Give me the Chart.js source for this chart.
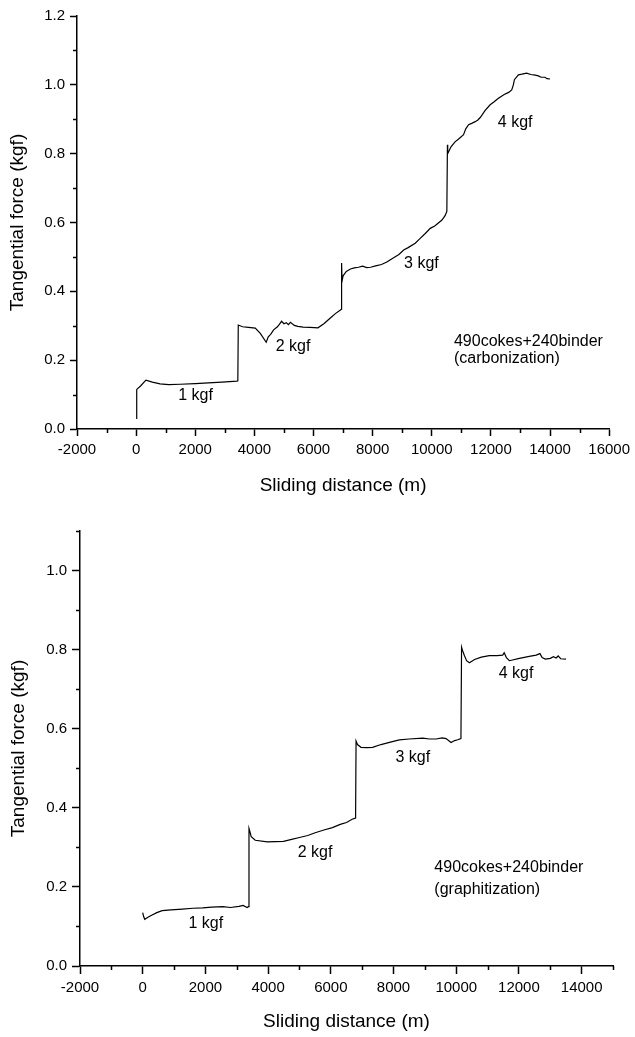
<!DOCTYPE html>
<html>
<head>
<meta charset="utf-8">
<script src="https://cdn.jsdelivr.net/npm/chart.js@4.4.1/dist/chart.umd.min.js"></script>
<style>
  body { margin: 0; background: #fff; }
  .box { position: absolute; left: 0; }
</style>
</head>
<body>
<div class="box" style="top:0"><canvas id="chartCarbon" width="635" height="500"></canvas></div>
<div class="box" style="top:505px"><canvas id="chartGraph" width="635" height="532"></canvas></div>
<script>
// carbonization run (top)
const carbonDist = [0, 20, 150, 330, 550, 810, 1100, 1490, 2000, 2450, 2900, 3410, 3440,
  3455, 3600, 3800, 4030, 4200, 4400, 4470, 4550, 4650, 4780, 4850, 4920, 5000, 5080, 5150, 5220,
  5350, 5470, 5650, 5880, 6150, 6350, 6560, 6750, 6900, 6940,
  6950, 6965, 7000, 7110, 7250, 7380, 7520, 7660, 7800, 7930, 8100, 8300, 8480, 8600, 8750, 8890,
  9050, 9200, 9440, 9600, 9780, 9950, 10100, 10345, 10450, 10510,
  10530, 10540, 10650, 10795, 10900, 11075, 11150, 11245, 11350, 11470, 11560, 11640, 11800, 11975,
  12100, 12255, 12450, 12600, 12705, 12760, 12795, 12930, 13050, 13210, 13350, 13500, 13605, 13700,
  13830, 13900, 14000];
const carbonForce = [0.031, 0.115, 0.125, 0.142, 0.136, 0.131, 0.129, 0.130, 0.132, 0.134, 0.136, 0.139, 0.140,
  0.302, 0.297, 0.295, 0.293, 0.278, 0.252, 0.268, 0.275, 0.288, 0.297, 0.305, 0.313, 0.306, 0.309, 0.303, 0.310,
  0.301, 0.298, 0.296, 0.295, 0.294, 0.306, 0.322, 0.336, 0.345, 0.348,
  0.482, 0.430, 0.445, 0.458, 0.465, 0.468, 0.470, 0.473, 0.469, 0.470, 0.474, 0.478, 0.485, 0.492, 0.500, 0.507,
  0.520, 0.527, 0.540, 0.553, 0.568, 0.583, 0.590, 0.607, 0.620, 0.632,
  0.826, 0.800, 0.820, 0.835, 0.842, 0.855, 0.872, 0.884, 0.888, 0.893, 0.898, 0.905, 0.925, 0.942,
  0.950, 0.961, 0.972, 0.978, 0.985, 1.000, 1.015, 1.029, 1.031, 1.034, 1.030, 1.028, 1.026, 1.022,
  1.022, 1.018, 1.017];

// graphitization run (bottom)
const graphDist = [0, 30, 65, 180, 300, 450, 620, 900, 1265, 1600, 1910, 2200, 2555, 2800, 3070, 3200, 3330, 3370,
  3390, 3420, 3460, 3590, 3975, 4490, 4750, 5000, 5265, 5500, 5780, 6050, 6300, 6500, 6680, 6790,
  6805, 6850, 6963, 7150, 7333, 7600, 7900, 8185, 8500, 8930, 9150, 9355, 9550, 9675, 9835, 9950, 10045, 10150,
  10170, 10200, 10260, 10330, 10420, 10585, 10800, 11055, 11300, 11480, 11530, 11600, 11695, 12015, 12330,
  12550, 12670, 12740, 12840, 13000, 13100, 13185, 13250, 13330, 13500];
const graphForce = [0.135, 0.125, 0.118, 0.124, 0.129, 0.135, 0.140, 0.142, 0.144, 0.146, 0.147, 0.149, 0.150, 0.148, 0.151, 0.153, 0.148, 0.150,
  0.348, 0.340, 0.327, 0.318, 0.314, 0.315, 0.320, 0.325, 0.330, 0.337, 0.344, 0.350, 0.358, 0.363, 0.371, 0.374,
  0.569, 0.560, 0.553, 0.552, 0.553, 0.560, 0.566, 0.572, 0.574, 0.576, 0.574, 0.574, 0.577, 0.575, 0.565, 0.570, 0.572, 0.575,
  0.806, 0.798, 0.785, 0.772, 0.767, 0.775, 0.781, 0.785, 0.785, 0.786, 0.792, 0.780, 0.772, 0.778, 0.783,
  0.786, 0.790, 0.780, 0.776, 0.778, 0.782, 0.779, 0.784, 0.777, 0.776];

// labelled ticks
const carbonXTicks = [-2000, 0, 2000, 4000, 6000, 8000, 10000, 12000, 14000, 16000];
const carbonYTicks = [0, 0.2, 0.4, 0.6, 0.8, 1.0, 1.2];
const graphXTicks = [-2000, 0, 2000, 4000, 6000, 8000, 10000, 12000, 14000];
const graphYTicks = [0, 0.2, 0.4, 0.6, 0.8, 1.0];

// minor tick values
const carbonXMinor = [-1000, 1000, 3000, 5000, 7000, 9000, 11000, 13000, 15000];
const carbonYMinor = [0.1, 0.3, 0.5, 0.7, 0.9, 1.1];
const graphXMinor = [-1000, 1000, 3000, 5000, 7000, 9000, 11000, 13000, 15000];
const graphYMinor = [0.1, 0.3, 0.5, 0.7, 0.9, 1.1];

// text notes in data units
const carbonNotes = [
  {text: '1 kgf', x: 2010, y: 0.097, align: 'center'},
  {text: '2 kgf', x: 5310, y: 0.238, align: 'center'},
  {text: '3 kgf', x: 9650, y: 0.482, align: 'center'},
  {text: '4 kgf', x: 12820, y: 0.889, align: 'center'},
  {text: '490cokes+240binder', x: 10750, y: 0.253, align: 'left'},
  {text: '(carbonization)', x: 10750, y: 0.206, align: 'left'}
];
const graphNotes = [
  {text: '1 kgf', x: 2013, y: 0.108, align: 'center'},
  {text: '2 kgf', x: 5496, y: 0.287, align: 'center'},
  {text: '3 kgf', x: 8613, y: 0.527, align: 'center'},
  {text: '4 kgf', x: 11907, y: 0.739, align: 'center'},
  {text: '490cokes+240binder', x: 9302, y: 0.248, align: 'left'},
  {text: '(graphitization)', x: 9302, y: 0.193, align: 'left'}
];

const FONT = "'Liberation Sans', Arial, Helvetica, sans-serif";

// short ticks between the labelled ones + text labels
const extrasPlugin = {
  id: 'extras',
  afterDraw(chart, args, opts) {
    const ctx = chart.ctx;
    const xs = chart.scales.x, ys = chart.scales.y;
    const area = chart.chartArea;
    ctx.save();
    ctx.strokeStyle = '#000';
    ctx.lineWidth = 1.5;
    ctx.beginPath();
    opts.xMinor.forEach(v => {
      const px = Math.round(xs.getPixelForValue(v)) + 0.5;
      ctx.moveTo(px, area.bottom);
      ctx.lineTo(px, area.bottom + 4);
    });
    opts.yMinor.forEach(v => {
      const py = Math.round(ys.getPixelForValue(v)) + 0.5;
      ctx.moveTo(area.left, py);
      ctx.lineTo(area.left - 4, py);
    });
    ctx.stroke();
    ctx.fillStyle = '#000';
    ctx.font = '16px ' + FONT;
    ctx.textBaseline = 'middle';
    opts.notes.forEach(n => {
      ctx.textAlign = n.align;
      ctx.fillText(n.text, xs.getPixelForValue(n.x), ys.getPixelForValue(n.y));
    });
    ctx.restore();
  }
};

function makeChart(id, dist, force, cfg) {
  const points = dist.map((d, i) => ({x: d, y: force[i]}));
  return new Chart(document.getElementById(id), {
    type: 'line',
    data: {
      datasets: [{
        data: points,
        borderColor: '#000',
        borderWidth: 1.2,
        pointRadius: 0,
        tension: 0,
        fill: false
      }]
    },
    options: {
      responsive: false,
      animation: false,
      layout: {padding: cfg.padding},
      plugins: {
        legend: {display: false},
        tooltip: {enabled: false},
        extras: {xMinor: cfg.xMinor, yMinor: cfg.yMinor, notes: cfg.notes}
      },
      scales: {
        x: {
          type: 'linear',
          min: cfg.xMin,
          max: cfg.xMax,
          afterBuildTicks: s => { s.ticks = cfg.xTicks.map(v => ({value: v})); },
          afterFit: s => { s.height = cfg.xHeight; },
          border: {color: '#000', width: 1.5},
          grid: {drawOnChartArea: false, tickLength: cfg.tickLen, tickColor: '#000', tickWidth: 1.5},
          ticks: {
            maxRotation: 0,
            autoSkip: false,
            padding: cfg.xPad,
            color: '#000',
            font: {family: FONT, size: 15},
            callback: v => String(v)
          },
          title: {
            display: true,
            text: 'Sliding distance (m)',
            color: '#000',
            font: {family: FONT, size: 19},
            padding: {top: 0, bottom: cfg.xTitlePad}
          }
        },
        y: {
          type: 'linear',
          min: 0,
          max: cfg.yMax,
          afterBuildTicks: s => { s.ticks = cfg.yTicks.map(v => ({value: v})); },
          afterFit: s => { s.width = cfg.yWidth; },
          border: {color: '#000', width: 1.5},
          grid: {drawOnChartArea: false, tickLength: cfg.tickLen, tickColor: '#000', tickWidth: 1.5},
          ticks: {
            autoSkip: false,
            padding: 5,
            color: '#000',
            font: {family: FONT, size: 15},
            callback: v => Number(v).toFixed(1)
          },
          title: {
            display: true,
            text: 'Tangential force (kgf)',
            color: '#000',
            font: {family: FONT, size: 19},
            padding: {top: cfg.yTitlePad, bottom: 0}
          }
        }
      }
    },
    plugins: [extrasPlugin]
  });
}

makeChart('chartCarbon', carbonDist, carbonForce, {
  xMin: -2000, xMax: 16000, yMax: 1.2,
  xTicks: carbonXTicks, yTicks: carbonYTicks,
  padding: {top: 16, right: 23, left: 0, bottom: 0},
  yWidth: 77, xHeight: 71, tickLen: 7, xPad: 5,
  xTitlePad: 3, yTitlePad: 6,
  xMinor: carbonXMinor, yMinor: carbonYMinor, notes: carbonNotes
});

makeChart('chartGraph', graphDist, graphForce, {
  xMin: -2000, xMax: 15000, yMax: 1.1,
  xTicks: graphXTicks, yTicks: graphYTicks,
  padding: {top: 26, right: 22, left: 0, bottom: 0},
  yWidth: 80, xHeight: 71, tickLen: 8, xPad: 5,
  xTitlePad: 4, yTitlePad: 7,
  xMinor: graphXMinor, yMinor: graphYMinor, notes: graphNotes
});
</script>
</body>
</html>
